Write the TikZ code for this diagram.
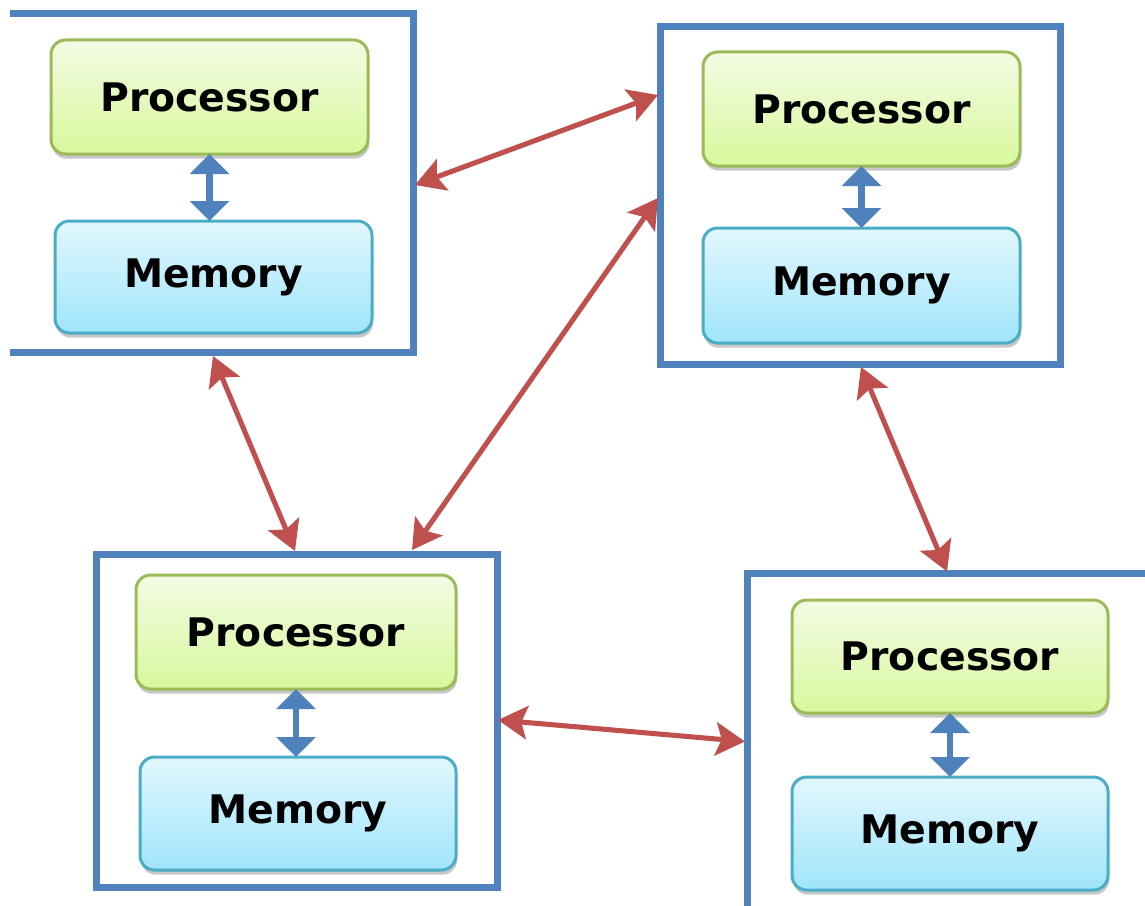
\documentclass[tikz,border=0pt]{standalone}
\usepackage{fontspec}
\setmainfont{DejaVu Sans}
\usetikzlibrary{arrows.meta,shadows}
\definecolor{frameblue}{HTML}{4F81BD}
\definecolor{linkred}{HTML}{C0504D}
\definecolor{procline}{HTML}{9BBB59}
\definecolor{proctop}{HTML}{F3FBE4}
\definecolor{procbot}{HTML}{D8F89C}
\definecolor{memline}{HTML}{4BACC6}
\definecolor{memtop}{HTML}{E2F7FE}
\definecolor{membot}{HTML}{9FE5FA}
\tikzset{
  frame/.style={rectangle, draw=frameblue, line width=5.25pt, inner sep=0pt, outer sep=0pt},
  ghostframe/.style={rectangle, draw=none, inner sep=0pt, outer sep=0pt},
  frameline/.style={draw=frameblue, line width=5.25pt},
  unit/.style={rectangle, inner sep=0pt, outer sep=0pt, rounded corners=11pt,
    line width=2.25pt, text=black, font=\fontsize{29.5}{35}\selectfont\bfseries,
    drop shadow={shadow xshift=0.8pt, shadow yshift=-3.5pt, opacity=0.22, fill=black}},
  proc/.style={unit, draw=procline, top color=proctop, bottom color=procbot},
  mem/.style={unit, draw=memline, top color=memtop, bottom color=membot},
  link/.style={draw=linkred, line width=3.8pt,
    {Stealth[length=22pt,width=25pt,inset=4.5pt]}-{Stealth[length=22pt,width=25pt,inset=4.5pt]}},
  bus/.style={draw=frameblue, line width=5pt,
    {Triangle[length=15pt,width=29pt]}-{Triangle[length=15pt,width=29pt]}},
}
\begin{document}
\begin{tikzpicture}[x=0.75pt,y=-0.75pt]
\useasboundingbox (0,0) rectangle (1145,906);
\clip (0,0) rectangle (1145,906);

% outer frames
\node[ghostframe, minimum width=302.25pt, minimum height=253.5pt] (tl) at (211.5,183) {};
\node[frame, minimum width=300pt, minimum height=252.75pt] (tr) at (860,195.5) {};
\node[frame, minimum width=300.75pt, minimum height=249.75pt] (bl) at (296.5,720.5) {};
\node[ghostframe, minimum width=300pt, minimum height=249.75pt] (br) at (947,740) {};
\draw[frameline] (tl.north west) -- (tl.north east) -- (tl.south east) -- (tl.south west);
\draw[frameline] (br.north east) -- (br.north west) -- (br.south west);

% top left unit
\node[proc, minimum width=237.75pt, minimum height=85.5pt] (p1) at (209.5,97) {Processor};
\node[mem, minimum width=237.75pt, minimum height=84pt] (m1) at (213.5,277) {Memory};
% top right unit
\node[proc, minimum width=237.75pt, minimum height=85.5pt] (p2) at (861.5,109) {Processor};
\node[mem, minimum width=237.75pt, minimum height=86.25pt] (m2) at (861.5,285.5) {Memory};
% bottom left unit
\node[proc, minimum width=240pt, minimum height=85.5pt] (p3) at (296,632) {Processor};
\node[mem, minimum width=237pt, minimum height=84.75pt] (m3) at (298,813.5) {Memory};
% bottom right unit
\node[proc, minimum width=237pt, minimum height=84.75pt] (p4) at (950,656.5) {Processor};
\node[mem, minimum width=237pt, minimum height=84.75pt] (m4) at (950,833.5) {Memory};

% processor-memory links
\draw[bus] (p1.south) -- (p1.south |- m1.north);
\draw[bus] (p2.south) -- (p2.south |- m2.north);
\draw[bus] (p3.south) -- (p3.south |- m3.north);
\draw[bus] (p4.south) -- (p4.south |- m4.north);

% interconnect
\draw[link] ([shift={(2,2)}]tl.east) -- ([shift={(-2,-100.5)}]tr.west);
\draw[link] ([shift={(115.5,-4)}]bl.north) -- ([shift={(-2,2.5)}]tr.west);
\draw[link] ([shift={(1.5,4)}]tl.south) -- ([shift={(-1.5,-3)}]bl.north);
\draw[link] ([shift={(1,3)}]tr.south) -- ([shift={(0,-2)}]br.north);
\draw[link] ([shift={(1,-0.5)}]bl.east) -- ([shift={(-2,1.5)}]br.west);
\end{tikzpicture}
\end{document}
